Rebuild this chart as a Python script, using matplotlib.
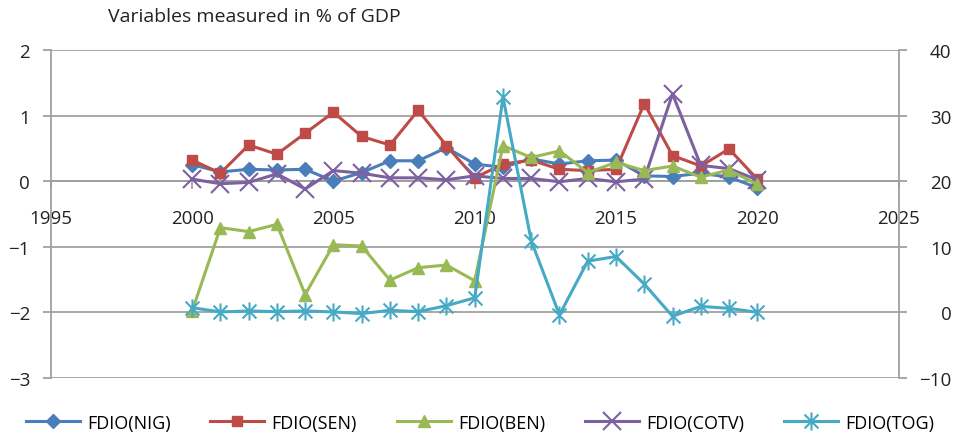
import matplotlib
matplotlib.use("Agg")
import matplotlib.pyplot as plt
from matplotlib.path import Path


years = list(range(2000, 2021))

# left axis series
fdio_nig = [0.25, 0.14, 0.18, 0.17, 0.18, 0.00, 0.13, 0.31, 0.31, 0.51, 0.26,
            0.21, 0.34, 0.26, 0.31, 0.32, 0.08, 0.07, 0.12, 0.06, -0.10]
fdio_sen = [0.32, 0.12, 0.55, 0.41, 0.73, 1.05, 0.68, 0.55, 1.08, 0.54, 0.05,
            0.26, 0.32, 0.18, 0.16, 0.18, 1.18, 0.39, 0.23, 0.49, 0.03]
fdio_cotv = [0.03, -0.04, -0.02, 0.11, -0.12, 0.16, 0.12, 0.05, 0.05, 0.02, 0.08,
             0.04, 0.04, -0.01, 0.04, -0.01, 0.03, 1.33, 0.24, 0.19, 0.02]

# right axis series
fdio_ben = [0.2, 12.9, 12.3, 13.4, 2.7, 10.3, 10.1, 4.9, 6.8, 7.2, 4.8,
            25.4, 23.6, 24.6, 21.3, 22.85, 21.6, 22.3, 20.6, 21.7, 19.5]
fdio_tog = [0.7, 0.05, 0.2, 0.1, 0.2, 0.05, -0.2, 0.3, 0.1, 1.0, 2.2,
            32.8, 10.9, -0.4, 7.8, 8.5, 4.3, -0.6, 0.9, 0.6, 0.0]

plt.rcParams['font.family'] = ['Open Sans', 'DejaVu Sans']

c_nig = '#4A7EBB'
c_sen = '#BE4B48'
c_ben = '#98B954'
c_cotv = '#7D60A0'
c_tog = '#46AAC5'
grid_c = '#A0A0A0'

# asterisk marker: X plus vertical bar
star_path = Path([(-1, -1), (1, 1), (-1, 1), (1, -1), (0, -1.3), (0, 1.3)],
                 [Path.MOVETO, Path.LINETO, Path.MOVETO, Path.LINETO,
                  Path.MOVETO, Path.LINETO])

fig = plt.figure(figsize=(9.6, 4.39), dpi=100)
ax = fig.add_axes([0.053, 0.137, 0.883, 0.747])
ax2 = ax.twinx()

lw = 2.2
h_nig, = ax.plot(years, fdio_nig, color=c_nig, lw=lw, marker='D', ms=7,
                 label='FDIO(NIG)', zorder=3)
h_sen, = ax.plot(years, fdio_sen, color=c_sen, lw=lw, marker='s', ms=7,
                 label='FDIO(SEN)', zorder=3)
h_cotv, = ax.plot(years, fdio_cotv, color=c_cotv, lw=lw, marker='x', ms=13,
                  mew=1.5, label='FDIO(COTV)', zorder=3)
h_ben, = ax2.plot(years, fdio_ben, color=c_ben, lw=lw, marker='^', ms=8,
                  label='FDIO(BEN)', zorder=3)
h_tog, = ax2.plot(years, fdio_tog, color=c_tog, lw=lw, marker=star_path, ms=13,
                  mew=1.5, label='FDIO(TOG)', zorder=3)

ax.set_xlim(1995, 2025)
ax.set_ylim(-3, 2)
ax2.set_ylim(-10, 40)
ax.set_xticks(range(1995, 2026, 5))
ax.set_yticks(range(-3, 3))
ax2.set_yticks(range(-10, 41, 10))
ax.set_yticklabels(['\u22123', '\u22122', '\u22121', '0', '1', '2'])
ax2.set_yticklabels(['\u221210', '0', '10', '20', '30', '40'], ha='right')

ax.yaxis.grid(True, color=grid_c, lw=1.3)
ax.set_axisbelow(True)

for a in (ax, ax2):
    a.spines['top'].set_visible(False)
    for s in ('left', 'right', 'bottom'):
        a.spines[s].set_color(grid_c)
        a.spines[s].set_linewidth(1.3)
    a.tick_params(colors=grid_c, labelcolor='#222222', labelsize=13.5,
                  width=1.3, length=6)

ax.spines['right'].set_visible(False)
ax2.spines['left'].set_visible(False)
ax2.spines['bottom'].set_visible(False)
ax.spines['bottom'].set_position(('data', 0))
ax.tick_params(axis='x', pad=14)
ax.tick_params(axis='y', pad=9)
ax2.tick_params(axis='y', pad=32)

fig.text(0.265, 0.962, 'Variables measured in % of GDP', ha='center', va='center',
         fontsize=14, color='#222222')

handles = [h_nig, h_sen, h_ben, h_cotv, h_tog]
fig.legend(handles=handles, labels=[h.get_label() for h in handles],
           loc='center', bbox_to_anchor=(0.5, 0.035), ncol=5, frameon=False,
           fontsize=13, handlelength=3, columnspacing=2.2, handletextpad=0.4)

fig.savefig('out.png', dpi=100)
